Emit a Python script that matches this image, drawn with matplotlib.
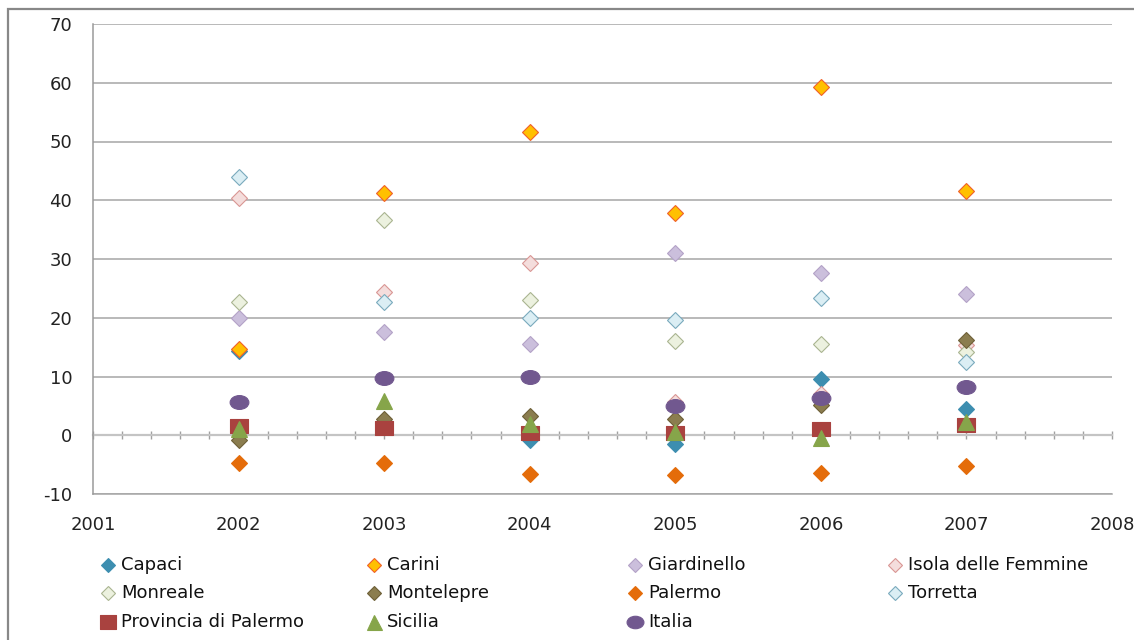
import matplotlib.pyplot as plt
import numpy as np
from matplotlib.path import Path
from matplotlib.transforms import Affine2D
from matplotlib.lines import Line2D
from matplotlib.patches import Rectangle

plt.rcParams['font.family'] = ['DejaVu Sans']
plt.rcParams['axes.unicode_minus'] = False

years = [2002, 2003, 2004, 2005, 2006, 2007]

names = ['Capaci', 'Carini', 'Giardinello', 'Isola delle Femmine',
         'Monreale', 'Montelepre', 'Palermo', 'Torretta',
         'Provincia di Palermo', 'Sicilia', 'Italia']

capaci      = [14.4, 1.5, -0.8, -1.5, 9.5, 4.4]
carini      = [14.6, 41.3, 51.6, 37.9, 59.3, 41.6]
giardinello = [19.9, 17.5, 15.6, 31.0, 27.7, 24.0]
isola       = [40.4, 24.3, 29.3, 5.7, 7.1, 15.4]
monreale    = [22.7, 36.6, 23.0, 16.0, 15.5, 14.2]
montelepre  = [-0.8, 2.7, 3.3, 2.8, 5.1, 16.2]
palermo     = [-4.7, -4.8, -6.6, -6.7, -6.5, -5.2]
torretta    = [43.9, 22.7, 20.0, 19.7, 23.4, 12.5]
provincia   = [1.5, 1.3, 0.4, 0.4, 1.0, 1.7]
sicilia     = [1.0, 5.9, 2.0, 0.6, -0.5, 2.3]
italia      = [5.7, 9.8, 9.9, 4.9, 6.3, 8.2]

series = [capaci, carini, giardinello, isola, monreale, montelepre,
          palermo, torretta, provincia, sicilia, italia]

# flattened ellipse / rectangle markers like the spreadsheet ones
ellipse = Path.unit_circle().transformed(Affine2D().scale(1.0, 0.74))
rect = Path([(-1, -0.82), (1, -0.82), (1, 0.82), (-1, 0.82), (-1, -0.82)],
            [Path.MOVETO, Path.LINETO, Path.LINETO, Path.LINETO, Path.CLOSEPOLY])

# (marker, size, face, edge)
styles = [
    ('D', 8.5, '#3d8eb0', '#3d8eb0'),
    ('D', 8.5, '#ffc000', '#f0602a'),
    ('D', 8.5, '#cbbfdc', '#b3a2c7'),
    ('D', 8.5, '#f4dddc', '#d99694'),
    ('D', 8.5, '#ecf1df', '#a9b590'),
    ('D', 8.5, '#8b7d4f', '#6e6038'),
    ('D', 8.5, '#e46c0a', '#e46c0a'),
    ('D', 8.5, '#dbeef4', '#7aaabd'),
    (rect, 13, '#a9423f', '#a9423f'),
    ('^', 12, '#86a54a', '#86a54a'),
    (ellipse, 13.5, '#71588f', '#71588f'),
]

fig = plt.figure(figsize=(11.34, 6.40), dpi=100)
ax = fig.add_axes([93 / 1134, 1 - 494 / 640, (1112 - 93) / 1134, 470 / 640])

ax.set_xlim(2001, 2008)
ax.set_ylim(-10, 70)

# horizontal gridlines
for v in range(-10, 71, 10):
    if v == 0:
        continue
    ax.axhline(v, color='#a6a6a6', lw=1.1, zorder=1)

for vals, (mk, ms, fc, ec) in zip(series, styles):
    ax.plot(years, vals, linestyle='none', marker=mk, markersize=ms,
            markerfacecolor=fc, markeredgecolor=ec, markeredgewidth=0.8,
            zorder=3)

# zero axis with crossing tick marks
ax.spines['bottom'].set_position(('data', 0))
ax.spines['bottom'].set_color('#c4c4c4')
ax.spines['bottom'].set_linewidth(1.6)
ax.spines['bottom'].set_zorder(2)
ax.spines['top'].set_visible(False)
ax.spines['right'].set_visible(False)
ax.spines['left'].set_color('#9a9a9a')
ax.spines['left'].set_linewidth(1.1)

ax.set_xticks(np.arange(2001, 2009, 1))
ax.set_xticks(np.arange(2001, 2008.01, 0.2), minor=True)
ax.tick_params(axis='x', which='both', direction='inout', length=6,
               width=1, color='#a0a0a0', labelbottom=False)

ax.set_yticks(np.arange(-10, 71, 10))
ax.tick_params(axis='y', length=0, pad=15, labelsize=13, labelcolor='#222222')

# year labels below the plot
sec = ax.secondary_xaxis(0.0)
sec.set_xticks(np.arange(2001, 2009, 1))
sec.tick_params(length=0, pad=16, labelsize=13, labelcolor='#222222')
sec.spines['bottom'].set_color('#a6a6a6')
sec.spines['bottom'].set_linewidth(1.1)

# legend laid out in four columns
col_x = [108, 374, 635, 895]
row_y = [565, 593, 622]
for i, (name, (mk, ms, fc, ec)) in enumerate(zip(names, styles)):
    c, r = i % 4, i // 4
    x, y = col_x[c] / 1134, 1 - row_y[r] / 640
    lms = ms * 0.8 if mk == 'D' else ms * 0.9
    fig.add_artist(Line2D([x], [y], transform=fig.transFigure, linestyle='none',
                          marker=mk, markersize=lms, markerfacecolor=fc,
                          markeredgecolor=ec, markeredgewidth=0.8))
    fig.text(x + 13 / 1134, y, name, fontsize=13, color='#111111',
             va='center', ha='left')

# chart frame
fig.add_artist(Rectangle((8 / 1134, -0.1), 1.2, 1 - 9 / 640 + 0.1,
                         transform=fig.transFigure, fill=False,
                         edgecolor='#888888', lw=1.6))

fig.savefig('out.png', dpi=100)
